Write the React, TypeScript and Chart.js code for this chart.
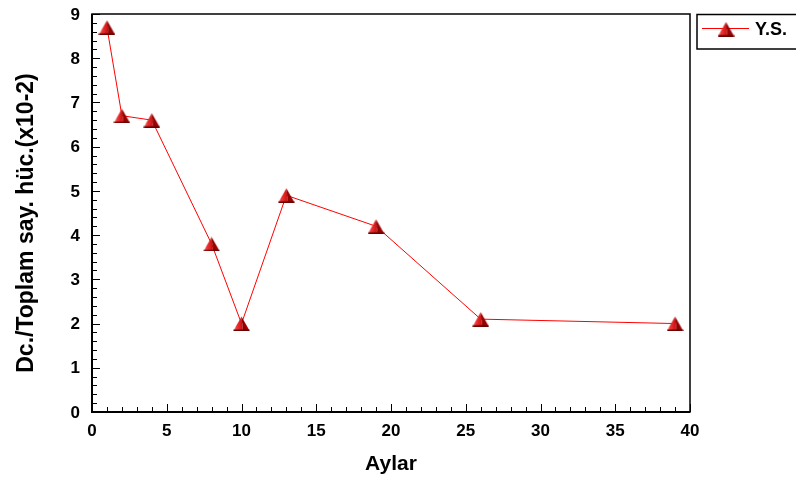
import { useEffect, useRef } from "react";
import { Chart, registerables } from "chart.js";

Chart.register(...registerables);

// Sampling months and the measured ratio (x10^-2)
const months = [1, 2, 4, 8, 10, 13, 19, 26, 39];
const ratio = [8.7, 6.7, 6.6, 3.8, 2.0, 4.9, 4.2, 2.1, 2.0];
const seriesLabel = "Y.S.";
const xTitle = "Aylar";
const yTitle = "Dc./Toplam say. hüc.(x10-2)";
const xTickLabels = [0, 5, 10, 15, 20, 25, 30, 35, 40];
const yTickLabels = [0, 1, 2, 3, 4, 5, 6, 7, 8, 9];
const xRange = [0, 40];
const yRange = [0, 9];

const FONT = "'Liberation Sans', Arial, Helvetica, sans-serif";

// Shaded pyramid-style triangle used as the point marker
function makeTriangle(): HTMLCanvasElement {
  const c = document.createElement("canvas");
  c.width = 17;
  c.height = 15;
  const g = c.getContext("2d")!;
  const apex = [8.5, 0.5];
  const bl = [0.5, 14.5];
  const br = [16.5, 14.5];
  const mid = [10, 14.5];
  const left = g.createLinearGradient(0, 0, 10, 0);
  left.addColorStop(0, "#ff9a9a");
  left.addColorStop(0.35, "#f03838");
  left.addColorStop(1, "#c80c0c");
  g.beginPath();
  g.moveTo(apex[0], apex[1]);
  g.lineTo(bl[0], bl[1]);
  g.lineTo(mid[0], mid[1]);
  g.closePath();
  g.fillStyle = left;
  g.fill();
  const right = g.createLinearGradient(9, 0, 17, 0);
  right.addColorStop(0, "#8a0000");
  right.addColorStop(1, "#a80808");
  g.beginPath();
  g.moveTo(apex[0], apex[1]);
  g.lineTo(mid[0], mid[1]);
  g.lineTo(br[0], br[1]);
  g.closePath();
  g.fillStyle = right;
  g.fill();
  g.fillStyle = "#6a0000";
  g.fillRect(0.5, 13.5, 16, 1.5);
  return c;
}

export default function App() {
  const ref = useRef<HTMLCanvasElement | null>(null);

  useEffect(() => {
    const canvas = ref.current;
    if (!canvas) return;
    const marker = makeTriangle();

    const framePlugin = {
      id: "frameAndAnnotations",
      afterDraw(chart: any) {
        const { ctx, chartArea } = chart;
        const { left, right, top, bottom } = chartArea;
        const xs = chart.scales.x;
        const ys = chart.scales.y;
        ctx.save();
        ctx.strokeStyle = "#000";

        // inward tick marks on the left and bottom axes
        ctx.lineWidth = 1;
        ctx.beginPath();
        for (let v = xRange[0]; v <= xRange[1]; v += 1) {
          const px = Math.round(xs.getPixelForValue(v)) + 0.5;
          const len = v % 5 === 0 ? 8 : 5;
          ctx.moveTo(px, bottom);
          ctx.lineTo(px, bottom - len);
        }
        for (let i = 0; i <= (yRange[1] - yRange[0]) * 5; i++) {
          const v = yRange[0] + i * 0.2;
          const py = Math.round(ys.getPixelForValue(v)) + 0.5;
          const len = i % 5 === 0 ? 8 : 5;
          ctx.moveTo(left, py);
          ctx.lineTo(left + len, py);
        }
        ctx.stroke();

        // plot frame
        ctx.lineWidth = 1.5;
        ctx.strokeRect(left, top, right - left, bottom - top);
        ctx.lineWidth = 2;
        ctx.beginPath();
        ctx.moveTo(left, top);
        ctx.lineTo(left, bottom);
        ctx.lineTo(right, bottom);
        ctx.stroke();

        // tick labels
        ctx.fillStyle = "#000";
        ctx.font = `bold 17px ${FONT}`;
        ctx.textAlign = "center";
        ctx.textBaseline = "middle";
        for (const v of xTickLabels) {
          ctx.fillText(String(v), xs.getPixelForValue(v), bottom + 19);
        }
        ctx.textAlign = "right";
        for (const v of yTickLabels) {
          ctx.fillText(String(v), left - 12, ys.getPixelForValue(v) + 1);
        }

        // axis titles
        ctx.textAlign = "center";
        ctx.font = `bold 21px ${FONT}`;
        ctx.fillText(xTitle, (left + right) / 2, 464);
        ctx.save();
        ctx.translate(27, 223);
        ctx.rotate(-Math.PI / 2);
        ctx.font = `bold 23px ${FONT}`;
        ctx.fillText(yTitle, 0, 0);
        ctx.restore();

        // legend box
        ctx.lineWidth = 1.5;
        ctx.strokeRect(697, 14.5, 120, 34.5);
        ctx.strokeStyle = "#ff0000";
        ctx.lineWidth = 1;
        ctx.beginPath();
        ctx.moveTo(702, 28.5);
        ctx.lineTo(749, 28.5);
        ctx.stroke();
        ctx.drawImage(marker, 726 - marker.width / 2, 29 - marker.height / 2);
        ctx.fillStyle = "#000";
        ctx.font = `bold 18px ${FONT}`;
        ctx.textAlign = "left";
        ctx.fillText(chart.data.datasets[0].label, 755, 30);
        ctx.restore();
      },
    };

    const chart = new Chart(canvas, {
      type: "scatter",
      data: {
        datasets: [
          {
            label: seriesLabel,
            data: months.map((m, i) => ({ x: m, y: ratio[i] })),
            showLine: true,
            borderColor: "#ff0000",
            borderWidth: 1,
            pointStyle: marker as any,
            pointRadius: 8,
            pointHoverRadius: 8,
            clip: false as any,
          },
        ],
      },
      options: {
        responsive: false,
        animation: false,
        events: [],
        layout: { padding: { left: 0, top: 14, right: 106, bottom: 0 } },
        plugins: { legend: { display: false }, tooltip: { enabled: false } },
        scales: {
          x: {
            type: "linear",
            min: xRange[0],
            max: xRange[1],
            grid: { display: false, drawTicks: false },
            border: { display: false },
            ticks: { display: false, stepSize: 5 },
            afterFit: (s: any) => {
              s.height = 66;
            },
          },
          y: {
            type: "linear",
            min: yRange[0],
            max: yRange[1],
            grid: { display: false, drawTicks: false },
            border: { display: false },
            ticks: { display: false, stepSize: 1 },
            afterFit: (s: any) => {
              s.width = 92;
            },
          },
        },
      },
      plugins: [framePlugin],
    });

    return () => chart.destroy();
  }, []);

  return (
    <div style={{ position: "fixed", left: 0, top: 0, width: 796, height: 478, background: "#fff" }}>
      <canvas ref={ref} width={796} height={478} style={{ width: 796, height: 478, display: "block" }} />
    </div>
  );
}
